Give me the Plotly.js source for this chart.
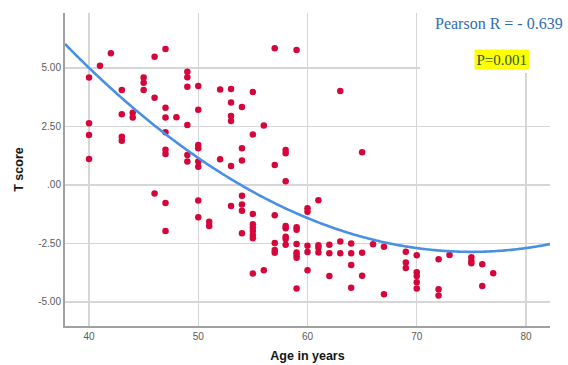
<!DOCTYPE html>
<html>
<head>
<meta charset="utf-8">
<script src="https://cdn.plot.ly/plotly-3.0.1.min.js"></script>
<style>
  html, body { margin: 0; padding: 0; background: #ffffff; }
  #chart { width: 568px; height: 365px; }
</style>
</head>
<body>
<div id="chart"></div>
<script>
// ---- Data ----
var ages = [
  40, 40, 40, 40,
  41,
  42,
  43, 43, 43, 43,
  44, 44,
  45, 45, 45,
  46, 46, 46,
  47, 47, 47, 47, 47, 47, 47, 47,
  48,
  49, 49, 49, 49, 49, 49,
  50, 50, 50, 50, 50, 50, 50, 50,
  51, 51,
  52, 52,
  53, 53, 53, 53, 53, 53,
  54, 54, 54, 54, 54, 54, 54,
  55, 55, 55, 55, 55, 55, 55, 55, 55,
  56, 56,
  57, 57, 57, 57, 57, 57,
  58, 58, 58, 58, 58, 58, 58, 58,
  59, 59, 59, 59, 59, 59, 59, 59,
  60, 60, 60, 60, 60,
  61, 61, 61, 61,
  62, 62, 62,
  63, 63, 63,
  64, 64, 64, 64,
  65, 65, 65,
  66,
  67, 67,
  69, 69, 69,
  70, 70, 70, 70, 70,
  72, 72, 72,
  73,
  75, 75, 75,
  76, 76,
  77
];
var tScores = [
  4.59, 2.64, 2.14, 1.11,
  5.10,
  5.63,
  4.06, 3.02, 2.06, 1.89,
  3.09, 2.88,
  4.59, 4.37, 4.06,
  5.48, 3.73, -0.37,
  5.81, 3.30, 2.88, 2.25, 1.50, 1.32, -0.77, -1.97,
  2.89,
  4.84, 4.60, 4.20, 2.56, 1.28, 1.00,
  4.23, 3.21, 1.71, 1.57, 1.00, 0.78, -0.67, -1.38,
  -1.57, -1.75,
  4.08, 1.10,
  4.10, 3.52, 2.95, 2.73, 0.81, -0.90,
  3.33, 1.57, 1.04, -0.46, -0.84, -1.10, -2.07,
  3.97, 2.16, -1.24, -1.68, -1.82, -1.97, -2.14, -2.28, -3.79,
  2.54, -3.65,
  5.84, 0.85, -1.30, -2.48, -2.78, -2.90,
  1.49, 1.35, 0.16, -1.75, -1.85, -2.21, -2.31, -2.56,
  5.77, -1.81, -1.92, -2.53, -2.89, -3.00, -3.11, -4.43,
  -1.00, -1.15, -2.60, -2.87, -3.65,
  -0.65, -2.58, -2.68, -2.89,
  -2.56, -2.92, -3.89,
  4.02, -2.42, -2.92,
  -2.50, -2.92, -3.42, -4.39,
  1.40, -2.90, -3.88,
  -2.54,
  -2.64, -4.67,
  -2.86, -3.32, -3.55,
  -3.01, -3.73, -3.89, -4.16, -4.43,
  -3.18, -4.46, -4.73,
  -2.99,
  -3.09, -3.25, -3.35,
  -3.39, -4.32,
  -3.77
];

// Quadratic fit line (vertex form: curvature, vertex age, vertex score)
var fitCurvature = 0.00642;
var fitVertexAge = 75.0;
var fitVertexScore = -2.86;

var xTickVals = [40, 50, 60, 70, 80];
var xTickText = ["40", "50", "60", "70", "80"];
var yTickVals = [-5, -2.5, 0, 2.5, 5];
var yTickText = ["-5.00", "-2.50", ".00", "2.50", "5.00"];

var xRange = [37.8, 82.2];
var yRange = [-6.03, 7.35];

var pearsonText = "Pearson R = - 0.639";
var pText = "P=0.001";

// ---- Build fit line ----
var fitX = [], fitY = [];
var steps = 200;
for (var i = 0; i <= steps; i++) {
  var x = xRange[0] + (xRange[1] - xRange[0]) * i / steps;
  fitX.push(x);
  fitY.push(fitCurvature * (x - fitVertexAge) * (x - fitVertexAge) + fitVertexScore);
}

var traces = [
  {
    x: ages, y: tScores, type: 'scatter', mode: 'markers',
    marker: { color: 'rgb(212,6,58)', size: 6.5, line: { width: 0 } },
    hoverinfo: 'x+y', showlegend: false, cliponaxis: true
  },
  {
    x: fitX, y: fitY, type: 'scatter', mode: 'lines',
    line: { color: 'rgb(74,144,226)', width: 2.6, shape: 'spline' },
    hoverinfo: 'skip', showlegend: false
  }
];

var layout = {
  width: 568, height: 365,
  margin: { l: 65, r: 18, t: 13, b: 39, pad: 0 },
  paper_bgcolor: '#ffffff', plot_bgcolor: '#ffffff',
  font: { family: 'Liberation Sans, Arial, sans-serif', color: 'rgb(90,90,90)', size: 10 },
  showlegend: false,
  xaxis: {
    range: xRange, tickvals: xTickVals, ticktext: xTickText,
    showgrid: true, gridcolor: 'rgb(214,214,214)', gridwidth: 1.5,
    zeroline: false, showline: true, linecolor: 'rgb(160,160,160)', linewidth: 2,
    ticks: '', ticklen: 0, tickfont: { size: 10, color: 'rgb(90,90,90)' },
    title: { text: '<b>Age in years</b>', font: { size: 12.5, color: 'rgb(20,20,20)', family: 'Liberation Sans, Arial, sans-serif' }, standoff: 10 },
    automargin: false, fixedrange: true
  },
  yaxis: {
    range: yRange, tickvals: yTickVals, ticktext: yTickText,
    showgrid: true, gridcolor: 'rgb(214,214,214)', gridwidth: 1.5,
    zeroline: false, showline: true, linecolor: 'rgb(160,160,160)', linewidth: 2,
    ticks: '', ticklen: 0, tickfont: { size: 10, color: 'rgb(90,90,90)' },
    title: { text: '<b>T score</b>', font: { size: 12.5, color: 'rgb(20,20,20)', family: 'Liberation Sans, Arial, sans-serif' }, standoff: 12 },
    automargin: false, fixedrange: true
  },
  shapes: [
    {
      type: 'rect', xref: 'paper', yref: 'paper',
      x0: 0.732, x1: 1.05, y0: 0.808, y1: 1.05,
      fillcolor: '#ffffff', line: { width: 0 }, layer: 'above'
    }
  ],
  annotations: [
    {
      xref: 'paper', yref: 'paper', x: 0.758, y: 0.966,
      xanchor: 'left', yanchor: 'middle', showarrow: false,
      text: pearsonText,
      font: { family: 'Liberation Serif, Times New Roman, serif', size: 16, color: 'rgb(46,108,178)' }
    },
    {
      xref: 'paper', yref: 'paper', x: 0.902, y: 0.851,
      xanchor: 'center', yanchor: 'middle', showarrow: false,
      text: pText, bgcolor: 'rgb(255,255,0)', borderpad: 1.5,
      font: { family: 'Liberation Serif, Times New Roman, serif', size: 15, color: 'rgb(40,84,70)' }
    }
  ]
};

Plotly.newPlot('chart', traces, layout, { displayModeBar: false, staticPlot: true });
</script>
</body>
</html>
